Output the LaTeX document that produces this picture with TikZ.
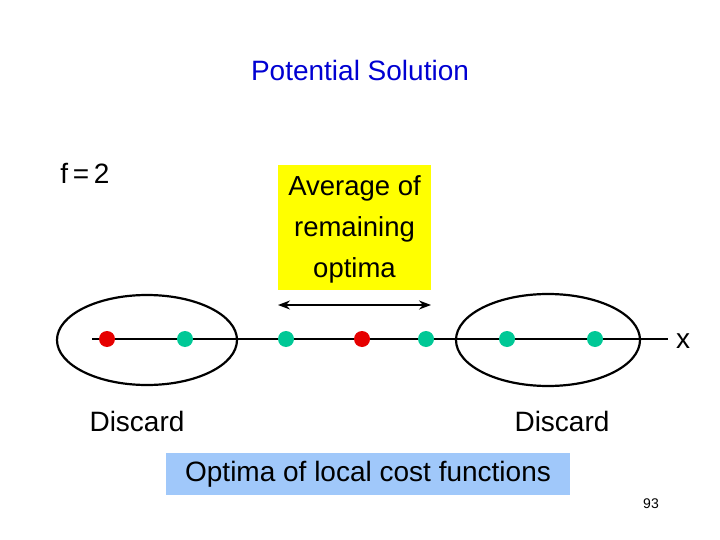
\documentclass[tikz,border=0pt]{standalone}
\usepackage{fontspec}
\setmainfont{Liberation Sans}
\usetikzlibrary{positioning,arrows.meta}
\definecolor{dotgreen}{RGB}{0,200,150}
\definecolor{dotred}{RGB}{230,0,0}
\definecolor{titleblue}{RGB}{0,0,210}
\definecolor{boxyellow}{RGB}{255,255,0}
\definecolor{boxblue}{RGB}{160,200,250}
\tikzset{
  dot/.style={circle,inner sep=0pt,minimum size=16pt,draw=none},
  label/.style={font=\fontsize{28}{32}\selectfont}
}
\begin{document}
\begin{tikzpicture}[x=1pt,y=-1pt]
\useasboundingbox (0,0) rectangle (720,540);

\node[label,text=titleblue] (title) at (360,70) {Potential Solution};
\node[label] (f) at (85,173) {f\,=\,2};

% yellow box
\node[fill=boxyellow,minimum width=153pt,minimum height=125pt,inner sep=0pt] (avg) at (354.5,227.5) {};
\node[align=center,font=\fontsize{27.5}{41}\selectfont] (avgtext) at (354.5,229) {Average of\\remaining\\optima};
\coordinate (al) at (278,305);
\coordinate (ar) at (431,305);
\draw[{Stealth[length=12pt,width=9pt]}-{Stealth[length=12pt,width=9pt]},line width=1.5pt] (al) -- (ar);

% axis
\coordinate (xl) at (92,339);
\coordinate (xr) at (668,339);
\draw[line width=1.5pt] (xl) -- (xr);
\node[label] (xlab) at (683,341) {x};

% ellipses
\draw[line width=2.2pt] (147,340) ellipse [x radius=90,y radius=45];
\draw[line width=2.2pt] (548,340) ellipse [x radius=92,y radius=46];

% optima
\foreach \px/\c [count=\i] in {107/dotred,185/dotgreen,286/dotgreen,362/dotred,426/dotgreen,507/dotgreen,595/dotgreen}
  \node[dot,fill=\c] (o\i) at (\px,339) {};

\node[label] (d1) at (137,421) {Discard};
\node[label] (d2) at (562,421) {Discard};

\node[label,fill=boxblue,minimum width=404pt,minimum height=42pt,inner sep=0pt] (opt) at (368,474) {Optima of local cost functions};
\node[font=\fontsize{14}{16}\selectfont] (num) at (651,504) {93};
\end{tikzpicture}
\end{document}
